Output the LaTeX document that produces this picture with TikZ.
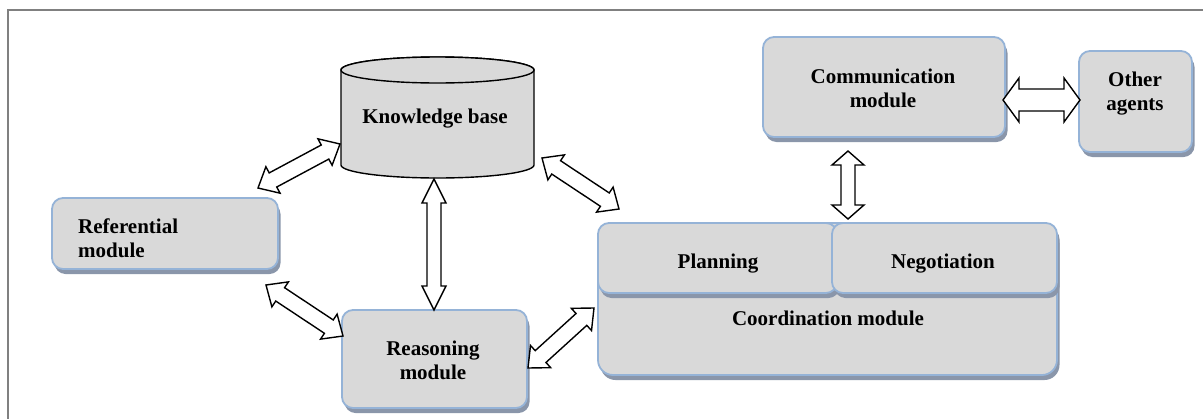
\documentclass[tikz,border=0pt]{standalone}
\usepackage{fontspec}
\setmainfont{Liberation Serif}
\usetikzlibrary{calc,shadows}

\definecolor{boxfill}{HTML}{D9D9D9}
\definecolor{boxedge}{HTML}{95B3D7}
\definecolor{shade}{HTML}{8A96AA}
\definecolor{framec}{HTML}{808080}

\tikzset{
  module/.style={draw=boxedge, line width=1.8pt, fill=boxfill,
    rounded corners=11pt, inner sep=0pt,
    general shadow={shadow xshift=2.5pt, shadow yshift=-5pt, fill=shade}},
  lbl/.style={font=\bfseries\fontsize{21}{24}\selectfont, align=center, inner sep=0pt},
  blockarrow/.style={draw=black, fill=white, line width=1.4pt, line join=miter},
  tank/.style={draw=black, fill=boxfill, line width=1.4pt},
}

% hollow double-headed block arrow between two named points
% #1,#2 ends, #3 shaft half width, #4 head half width, #5 head length
\newcommand\twowayarrow[5]{%
  \coordinate (tw-p) at ($(#1)!#5!(#2)$);
  \coordinate (tw-q) at ($(#2)!#5!(#1)$);
  \draw[blockarrow] (#1)
    -- ($(tw-p)!#4!90:(#2)$) -- ($(tw-p)!#3!90:(#2)$)
    -- ($(tw-q)!#3!-90:(#1)$) -- ($(tw-q)!#4!-90:(#1)$)
    -- (#2)
    -- ($(tw-q)!#4!90:(#1)$) -- ($(tw-q)!#3!90:(#1)$)
    -- ($(tw-p)!#3!-90:(#2)$) -- ($(tw-p)!#4!-90:(#2)$)
    -- cycle;
}

\begin{document}
\begin{tikzpicture}[x=1pt, y=-1pt]
\useasboundingbox (0,0) rectangle (1203,418);

% outer frame
\draw[framec, line width=1.5pt] (8,430) -- (8,10) -- (1210,10);

% knowledge base drum
\path[tank] (341,70) -- (341,165)
  arc[start angle=180, end angle=360, x radius=96.5pt, y radius=13pt]
  -- (534,70)
  arc[start angle=0, end angle=180, x radius=96.5pt, y radius=13pt] -- cycle;
\draw[tank] (437.5,70) ellipse [x radius=96.5pt, y radius=13pt];
\node[lbl, anchor=base] (kb) at (435,123.3) {Knowledge base};

% modules
\node[module, minimum width=226pt, minimum height=71pt] (ref) at (165,233.5) {};
\node[lbl, align=left, anchor=west] (reftext) at (78,238) {Referential\\module};

\node[module, minimum width=185pt, minimum height=98pt] (reas) at (434.5,359) {};
\node[lbl] (reastext) at (433,360.5) {Reasoning\\module};

\node[module, minimum width=242pt, minimum height=100pt] (comm) at (884,87) {};
\node[lbl] (commtext) at (883,88) {Communication\\module};

\node[module, minimum width=113pt, minimum height=101pt] (other) at (1135.5,101.5) {};
\node[lbl] (othertext) at (1135,93.5) {Other\\agents};

\node[module, rounded corners=15pt, minimum width=459pt, minimum height=152pt] (coord) at (827.5,299) {};
\node[lbl, anchor=base] (coordtext) at (828,325) {Coordination module};

\node[module, minimum width=239pt, minimum height=70pt] (plan) at (717.5,258) {};
\node[lbl, anchor=base] (plantext) at (718,268) {Planning};

\node[module, minimum width=225pt, minimum height=70pt] (nego) at (944.5,258) {};
\node[lbl, anchor=base] (negotext) at (943,268) {Negotiation};

% arrow end points
\coordinate (ref-up)   at (258,188);
\coordinate (kb-left)  at (340,144);
\coordinate (kb-down)  at (434,179);
\coordinate (reas-up)  at (434,310);
\coordinate (ref-down) at (266,285);
\coordinate (reas-left) at (343,336);
\coordinate (kb-right) at (542,158);
\coordinate (coord-nw) at (619,209);
\coordinate (reas-right) at (528,368);
\coordinate (coord-w)  at (594,308);
\coordinate (comm-down) at (848,151);
\coordinate (coord-up) at (848,219);
\coordinate (comm-right) at (1003,100);
\coordinate (other-left) at (1080,100);

% connectors
\twowayarrow{ref-up}{kb-left}{8pt}{15pt}{17pt}
\twowayarrow{kb-down}{reas-up}{7pt}{12pt}{24pt}
\twowayarrow{ref-down}{reas-left}{8pt}{15pt}{17pt}
\twowayarrow{kb-right}{coord-nw}{8pt}{15pt}{17pt}
\twowayarrow{reas-right}{coord-w}{8pt}{15pt}{17pt}
\twowayarrow{comm-down}{coord-up}{7pt}{16pt}{14pt}
\twowayarrow{comm-right}{other-left}{11pt}{22pt}{16pt}
\end{tikzpicture}
\end{document}
